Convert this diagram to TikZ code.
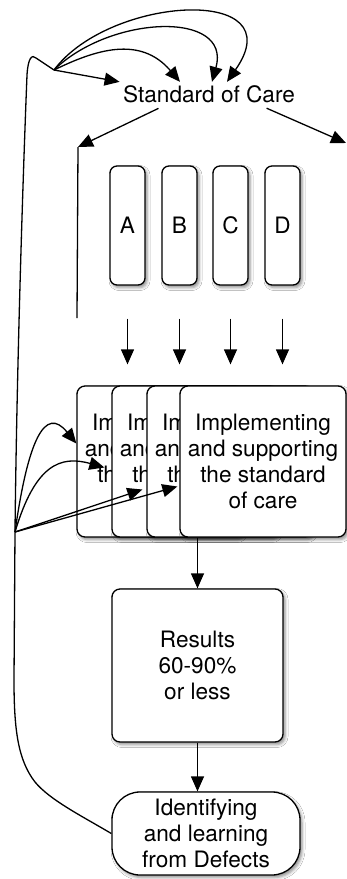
\documentclass[tikz,border=0pt]{standalone}
\usepackage{fontspec}
\setmainfont{TeX Gyre Heros}
\usetikzlibrary{arrows.meta,shadows.blur}

\tikzset{
  txt/.style={font=\fontsize{22.6}{26}\selectfont, align=center},
  soft/.style={blur shadow={shadow xshift=2pt, shadow yshift=-2.5pt, shadow blur radius=3pt, shadow opacity=45}},
  tab/.style={txt, draw, line width=1.3pt, rounded corners=7pt, fill=white, soft,
    minimum width=35pt, minimum height=119pt, inner sep=0pt},
  stage/.style={txt, draw, line width=1.3pt, rounded corners=8pt, fill=white, soft, inner sep=0pt},
  link/.style={line width=1.3pt},
  arr/.style={link, -{Triangle[length=15pt,width=13pt]}},
}

\begin{document}
\begin{tikzpicture}[x=1pt,y=-1pt]
    \fill[white] (0,0) rectangle (347,879);
    \useasboundingbox (0,0) rectangle (347,879);

    \node[txt] (care) at (209,94) {Standard of Care};

    % the four tabs
    \node[tab] (a) at (127.5,225.5) {A};
    \node[tab] (b) at (179.5,225.5) {B};
    \node[tab] (c) at (230.5,225.5) {C};
    \node[tab] (d) at (282.5,225.5) {D};

    % stacked copies, the last one on top
    \node[stage, minimum width=166pt, minimum height=151pt] (imp1) at (160,461.5) {Implementing\\and supporting\\the standard\\of care};
    \node[stage, minimum width=166pt, minimum height=151pt] (imp2) at (195,461.5) {Implementing\\and supporting\\the standard\\of care};
    \node[stage, minimum width=166pt, minimum height=151pt] (imp3) at (230,461.5) {Implementing\\and supporting\\the standard\\of care};
    \node[stage, minimum width=166pt, minimum height=151pt] (imp4) at (263,461.5) {Implementing\\and supporting\\the standard\\of care};

    \node[stage, minimum width=171pt, minimum height=153pt] (res) at (197.5,665.5) {Results\\60-90\%\\or less};
    \node[stage, rounded corners=28pt, minimum width=188pt, minimum height=83pt] (learn) at (206,833.5) {Identifying\\and learning\\from Defects};

    \coordinate (fbtop) at (54,70);
    \coordinate (hub) at (15,532);
    \coordinate (bartop) at (78,147);
    \coordinate (barbot) at (77,318);
    \coordinate (rgt) at (346,143);

    % feedback line
    \draw[link] (learn.west) .. controls (80,815) and (50,800) .. (35,782)
        .. controls (18,760) and (14,730) .. (14,680) -- (hub)
        .. controls (17,350) and (24,150) .. (27,75)
        .. controls (28,58) and (32,54) .. (36,58) -- (fbtop);

    \draw[arr] (fbtop) -- (care.north west);
    \draw[arr] (fbtop) .. controls (95,50) and (140,35) .. ([xshift=-29pt]care.north);
    \draw[arr] (fbtop) .. controls (110,15) and (232,10) .. ([xshift=3pt]care.north);
    \draw[arr] (fbtop) .. controls (110,-5) and (295,-15) .. ([xshift=18pt]care.north);

    \draw[arr, shorten <=5pt] ([xshift=-46pt]care.south) -- (bartop);
    \draw[link] (bartop) -- (barbot);
    \draw[arr, shorten <=5pt] ([xshift=53pt]care.south) -- (rgt);

    \draw[arr, shorten <=33pt, shorten >=21pt] (a.south) -- (a.south |- imp1.north);
    \draw[arr, shorten <=33pt, shorten >=21pt] (b.south) -- (b.south |- imp1.north);
    \draw[arr, shorten <=33pt, shorten >=21pt] (c.south) -- (c.south |- imp1.north);
    \draw[arr, shorten <=33pt, shorten >=21pt] (d.south) -- (d.south |- imp1.north);

    \draw[arr] (hub) .. controls (28,440) and (45,405) .. ([yshift=18pt]imp1.west);
    \draw[arr] (hub) .. controls (35,465) and (60,455) .. ([xshift=-7pt,yshift=-6pt]imp2.west);
    \draw[arr] (hub) -- ([xshift=-4pt,yshift=-28pt]imp3.west);
    \draw[arr] (hub) -- ([xshift=-2pt,yshift=-25pt]imp4.west);

    \draw[arr] (res.north |- imp4.south) -- (res.north);
    \draw[arr] (res.south) -- (res.south |- learn.north);
\end{tikzpicture}
\end{document}
